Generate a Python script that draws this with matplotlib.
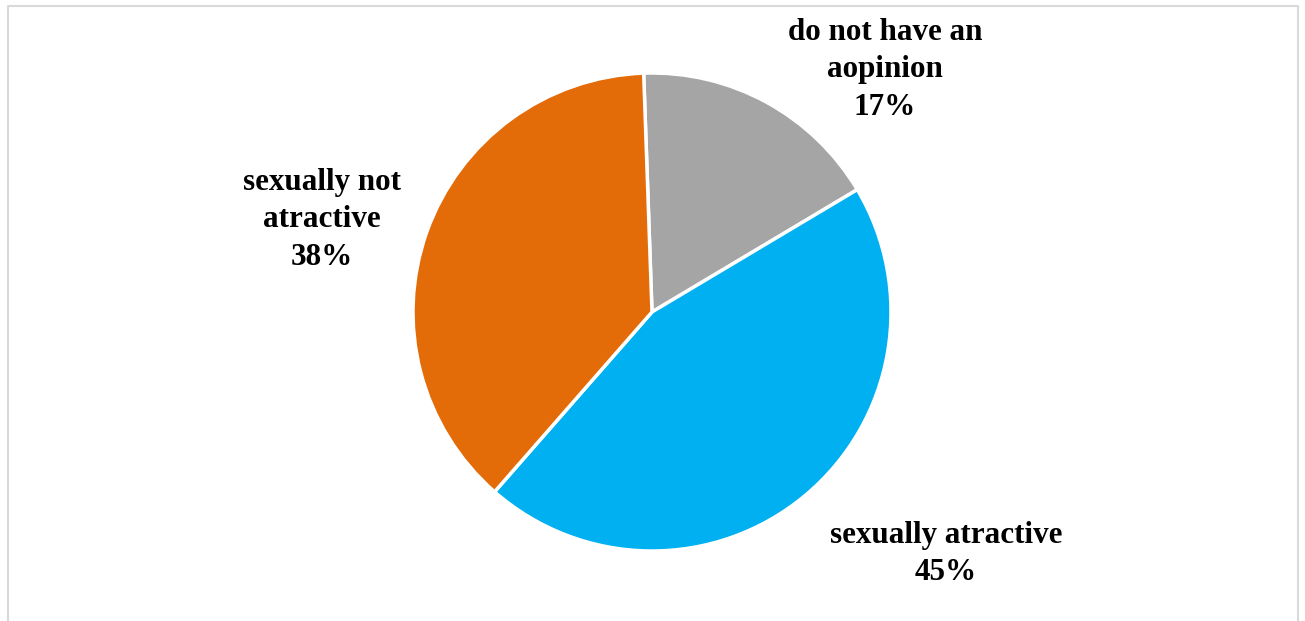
import matplotlib.pyplot as plt
from matplotlib.lines import Line2D

# Survey answers
labels = ['do not have an\naopinion', 'sexually atractive', 'sexually not\natractive']
shares = [17, 45, 38]
colors = ['#A5A5A5', '#00B0F0', '#E36C09']

W, H = 1305, 621
cx, cy, r = 652, 312, 239

fig = plt.figure(figsize=(W / 100, H / 100), dpi=100)
ax = fig.add_axes([0, 0, 1, 1])

ax.pie(shares, colors=colors, startangle=92, counterclock=False,
       radius=1, wedgeprops=dict(edgecolor='white', linewidth=2.5))
ax.set_xlim(-cx / r, (W - cx) / r)
ax.set_ylim(-(H - cy) / r, cy / r)
ax.axis('off')

def px(x, y):
    return (x - cx) / r, (cy - y) / r

label_pos = [(885, 70), (946, 554), (322, 220)]
font = dict(family='Liberation Serif', weight='bold', size=22.4, color='black')
for lab, val, (x, y) in zip(labels, shares, label_pos):
    ax.text(*px(x, y), f'{lab}\n{val}%', ha='center', va='center',
            linespacing=1.4, **font)

# light frame around the chart area (open at the bottom)
frame = Line2D([7.5 / W, 7.5 / W, 1298 / W, 1298 / W],
               [0, 1 - 6 / H, 1 - 6 / H, 0],
               transform=fig.transFigure, color='#D9D9D9', linewidth=1.5)
fig.add_artist(frame)

fig.savefig('out.png', dpi=100)
